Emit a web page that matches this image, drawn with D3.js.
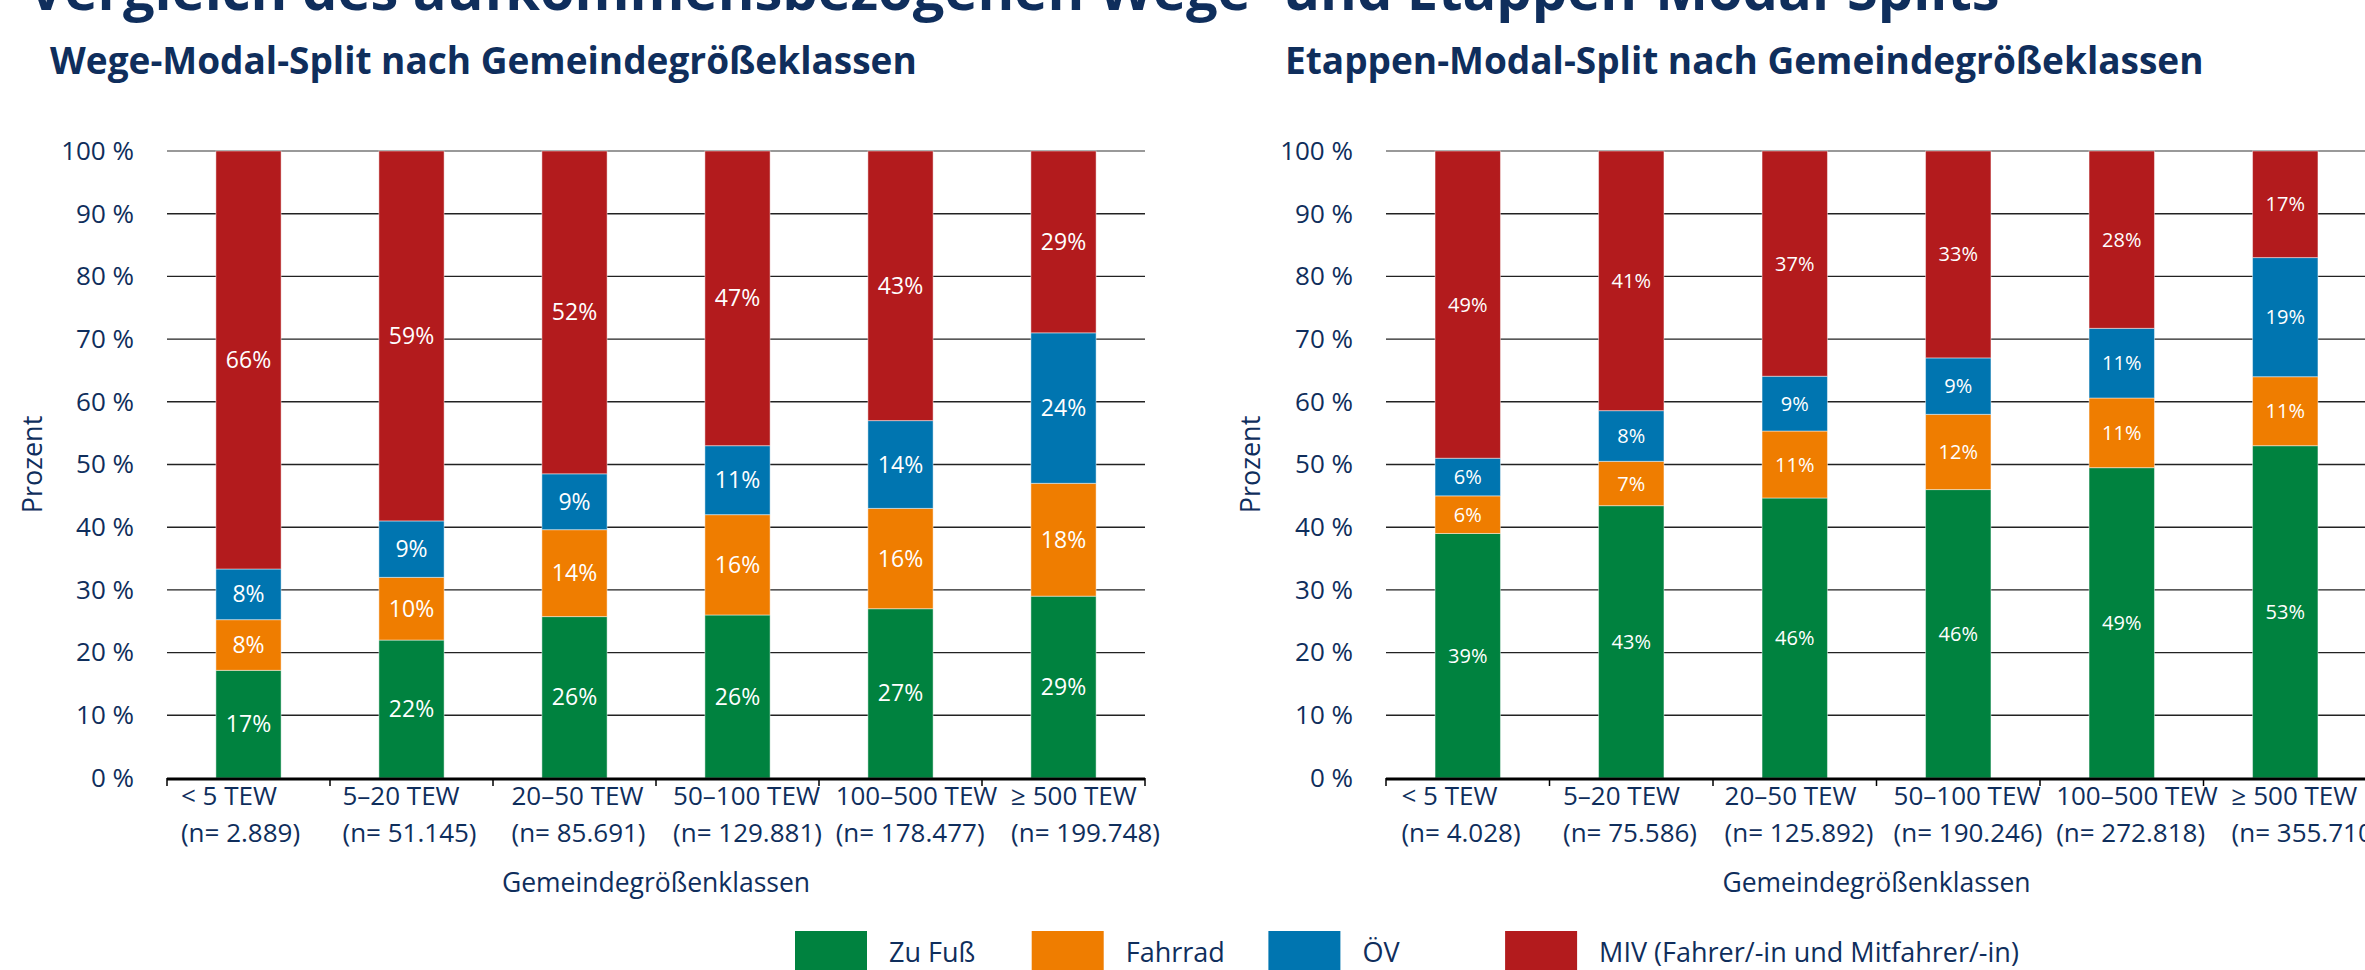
<!DOCTYPE html>
<html>
<head>
<meta charset="utf-8">
<script src="https://cdn.jsdelivr.net/npm/d3@7"></script>
<style>
  body { margin: 0; background: #fff; overflow: hidden; }
  svg { font-family: "Open Sans", sans-serif; display: block; }
</style>
</head>
<body>
<svg id="root" width="2365" height="970"></svg>
<script>
// categories and sample sizes
var categories = ["< 5 TEW", "5\u201320 TEW", "20\u201350 TEW", "50\u2013100 TEW", "100\u2013500 TEW", "\u2265 500 TEW"];
var wegeN = ["2.889", "51.145", "85.691", "129.881", "178.477", "199.748"];
var etappenN = ["4.028", "75.586", "125.892", "190.246", "272.818", "355.710"];

var modes = ["Zu Fuß", "Fahrrad", "ÖV", "MIV (Fahrer/-in und Mitfahrer/-in)"];
var modeColors = ["#00823f", "#ef7d00", "#0075b0", "#b31b1d"];

// Wege-Modal-Split (%)
var wegeFuss = [17, 22, 26, 26, 27, 29];
var wegeRad  = [8, 10, 14, 16, 16, 18];
var wegeOev  = [8, 9, 9, 11, 14, 24];
var wegeMiv  = [66, 59, 52, 47, 43, 29];

// Etappen-Modal-Split (%)
var etFuss = [39, 43, 46, 46, 49, 53];
var etRad  = [6, 7, 11, 12, 11, 11];
var etOev  = [6, 8, 9, 9, 11, 19];
var etMiv  = [49, 41, 37, 33, 28, 17];

var yTicks = [0, 0.1, 0.2, 0.3, 0.4, 0.5, 0.6, 0.7, 0.8, 0.9, 1];

var navy = "#0f2e5c";
var svg = d3.select("#root");

// main title (cut at the top of the picture)
svg.append("text")
    .attr("x", 28).attr("y", 10)
    .attr("fill", navy)
    .style("font-size", "56px")
    .style("font-weight", 700)
    .text("Vergleich des aufkommensbezogenen Wege- und Etappen-Modal-Splits");

function buildRows(fuss, rad, oev, miv) {
    return categories.map(function (c, i) {
        var r = { cat: c };
        r[modes[0]] = fuss[i];
        r[modes[1]] = rad[i];
        r[modes[2]] = oev[i];
        r[modes[3]] = miv[i];
        return r;
    });
}

function drawChart(opts) {
    var margin = opts.margin;
    var g = svg.append("g");

    g.append("text")
        .attr("x", opts.titleX).attr("y", 74)
        .attr("fill", navy)
        .style("font-size", "37px")
        .style("font-weight", 700)
        .text(opts.title);

    var x = d3.scaleBand()
        .domain(categories)
        .range([margin.left, margin.right])
        .paddingInner(0.6)
        .paddingOuter(0.3);

    var y = d3.scaleLinear()
        .domain([0, 1])
        .range([margin.bottom, margin.top]);

    // gridlines
    g.append("g")
        .selectAll("line")
        .data(yTicks.slice(1))
        .enter().append("line")
        .attr("x1", margin.left).attr("x2", margin.right)
        .attr("y1", function (d) { return y(d); })
        .attr("y2", function (d) { return y(d); })
        .attr("stroke", function (d) { return d === 1 ? "#777" : "#222"; })
        .attr("stroke-width", 1.4);

    // y axis labels
    var yAxis = d3.axisLeft(y)
        .tickValues(yTicks)
        .tickSize(0)
        .tickPadding(33)
        .tickFormat(function (d) { return Math.round(d * 100) + " %"; });
    var ya = g.append("g")
        .attr("transform", "translate(" + margin.left + ",0)")
        .call(yAxis);
    ya.select(".domain").remove();
    ya.selectAll("text")
        .attr("fill", navy)
        .style("font-size", "26px")
        .style("font-family", "Open Sans");

    g.append("text")
        .attr("transform", "translate(" + opts.yTitleX + "," + ((margin.top + margin.bottom) / 2) + ") rotate(-90)")
        .attr("text-anchor", "middle")
        .attr("fill", navy)
        .style("font-size", "27px")
        .text("Prozent");

    // stacked bars, normalised to 100 %
    var rows = buildRows(opts.fuss, opts.rad, opts.oev, opts.miv);
    var series = d3.stack()
        .keys(modes)
        .offset(d3.stackOffsetExpand)(rows);

    var layer = g.append("g")
        .selectAll("g")
        .data(series)
        .enter().append("g")
        .attr("fill", function (d, i) { return modeColors[i]; });

    layer.selectAll("rect")
        .data(function (d) { return d; })
        .enter().append("rect")
        .attr("x", function (d) { return x(d.data.cat); })
        .attr("width", x.bandwidth())
        .attr("y", function (d) { return y(d[1]); })
        .attr("height", function (d) { return y(d[0]) - y(d[1]); })
        .attr("stroke", "rgba(255,255,255,0.45)")
        .attr("stroke-width", 1);

    layer.each(function (s) {
        d3.select(this).selectAll("text")
            .data(s)
            .enter().append("text")
            .attr("x", function (d) { return x(d.data.cat) + x.bandwidth() / 2; })
            .attr("y", function (d) { return (y(d[0]) + y(d[1])) / 2; })
            .attr("dy", "0.35em")
            .attr("text-anchor", "middle")
            .attr("fill", "#fff")
            .style("font-size", opts.valueSize + "px")
            .text(function (d) { return d.data[s.key] + "%"; });
    });

    // x axis
    var step = x.step();
    var xa = g.append("g");
    xa.append("line")
        .attr("x1", margin.left).attr("x2", margin.right)
        .attr("y1", margin.bottom + 1).attr("y2", margin.bottom + 1)
        .attr("stroke", "#000").attr("stroke-width", 3);
    xa.selectAll("line.tick")
        .data(d3.range(categories.length + 1))
        .enter().append("line")
        .attr("class", "tick")
        .attr("x1", function (i) { return margin.left + i * step; })
        .attr("x2", function (i) { return margin.left + i * step; })
        .attr("y1", margin.bottom).attr("y2", margin.bottom + 8)
        .attr("stroke", "#000").attr("stroke-width", 1.5);

    // category labels: two left-aligned lines per block, blocks spread a bit wider than the bars
    var mid = (margin.left + margin.right) / 2;
    var labels = xa.selectAll("g.lab")
        .data(categories)
        .enter().append("g")
        .attr("class", "lab");
    labels.each(function (c, i) {
        var t = d3.select(this).append("text")
            .attr("fill", navy)
            .style("font-size", "26px");
        t.append("tspan").attr("x", 0).attr("y", margin.bottom + 27).text(c);
        t.append("tspan").attr("x", 0).attr("y", margin.bottom + 64).text("(n= " + opts.n[i] + ")");
        var w = this.getBBox().width;
        var cx = mid + 7 + (i - 2.5) * opts.labelStep;
        d3.select(this).attr("transform", "translate(" + (cx - w / 2) + ",0)");
    });

    g.append("text")
        .attr("x", mid).attr("y", 892)
        .attr("text-anchor", "middle")
        .attr("fill", navy)
        .style("font-size", "26.5px")
        .text("Gemeindegrößenklassen");
}

drawChart({
    title: "Wege-Modal-Split nach Gemeindegrößeklassen",
    titleX: 50,
    margin: { left: 167, right: 1145, top: 151, bottom: 778 },
    yTitleX: 42,
    n: wegeN,
    fuss: wegeFuss, rad: wegeRad, oev: wegeOev, miv: wegeMiv,
    valueSize: 23,
    labelStep: 169
});

drawChart({
    title: "Etappen-Modal-Split nach Gemeindegrößeklassen",
    titleX: 1285,
    margin: { left: 1386, right: 2367, top: 151, bottom: 778 },
    yTitleX: 1260,
    n: etappenN,
    fuss: etFuss, rad: etRad, oev: etOev, miv: etMiv,
    valueSize: 20,
    labelStep: 169
});

// legend
var legend = svg.append("g")
    .selectAll("g")
    .data(modes)
    .enter().append("g")
    .attr("transform", function (d, i) { return "translate(" + (795 + i * 236.7) + ",931)"; });
legend.append("rect")
    .attr("width", 72).attr("height", 72)
    .attr("fill", function (d, i) { return modeColors[i]; });
legend.append("text")
    .attr("x", 94).attr("y", 31)
    .attr("fill", navy)
    .style("font-size", "27px")
    .text(function (d) { return d; });
</script>
</body>
</html>
